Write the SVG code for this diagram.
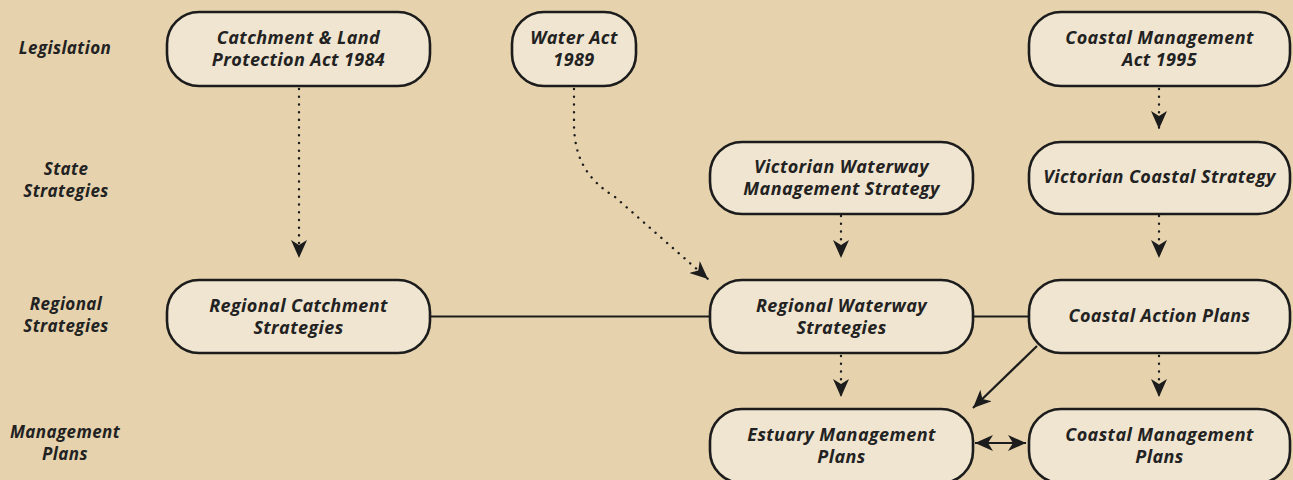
<svg xmlns="http://www.w3.org/2000/svg" width="1293" height="480" viewBox="0 0 1293 480">
<style>
.bg{fill:#e6d3ae}
.node rect{fill:#f0e5d0;stroke:#1c1c1c;stroke-width:2.6}
text{font-family:"Open Sans","Liberation Sans",sans-serif;font-style:italic;font-weight:700;fill:#222;text-anchor:middle}
.nt{font-size:18px;letter-spacing:0.4px}
.lbl{font-size:17px;letter-spacing:0.4px}
.dot{fill:none;stroke:#1c1c1c;stroke-width:2.4;stroke-dasharray:0.1 7.6;stroke-linecap:round}
.sol{fill:none;stroke:#1c1c1c;stroke-width:2.2}
</style>
<defs>
<marker id="ah" viewBox="0 0 18 16" refX="18" refY="8" markerWidth="18" markerHeight="16" markerUnits="userSpaceOnUse" orient="auto-start-reverse">
<path d="M0,0 L18,8 L0,16 L5,8 z" fill="#1c1c1c"/>
</marker>
</defs>
<rect class="bg" x="0" y="0" width="1293" height="480"/>
<g id="row-labels">
<text class="lbl" x="65" y="54">Legislation</text>
<text class="lbl" x="66" y="175">State</text>
<text class="lbl" x="66" y="197">Strategies</text>
<text class="lbl" x="66" y="310">Regional</text>
<text class="lbl" x="66" y="332">Strategies</text>
<text class="lbl" x="65" y="438">Management</text>
<text class="lbl" x="65" y="460">Plans</text>
</g>
<g id="connectors">
<path class="dot" d="M299,89 V258" marker-end="url(#ah)"/>
<path class="dot" d="M574,89 V126 C575,160 588,180 615,197 L708,279" marker-end="url(#ah)"/>
<path class="dot" d="M841,216 V258" marker-end="url(#ah)"/>
<path class="dot" d="M1159,89 V129" marker-end="url(#ah)"/>
<path class="dot" d="M1159,216 V258" marker-end="url(#ah)"/>
<path class="dot" d="M841,356 V397" marker-end="url(#ah)"/>
<path class="dot" d="M1159,356 V397" marker-end="url(#ah)"/>
<path class="sol" d="M430,316.5 H710"/>
<path class="sol" d="M973,316.5 H1029"/>
<path class="sol" d="M1037,346 L973,408" marker-end="url(#ah)"/>
<path class="sol" d="M975,443 H1026" marker-start="url(#ah)" marker-end="url(#ah)"/>
</g>
<g id="n-clpa" class="node"><rect x="167" y="12" width="263" height="74" rx="32"/><text class="nt" x="298.5" y="44">Catchment &amp; Land</text><text class="nt" x="298.5" y="66">Protection Act 1984</text></g>
<g id="n-wa" class="node"><rect x="512" y="12" width="124" height="74" rx="32"/><text class="nt" x="574" y="44">Water Act</text><text class="nt" x="574" y="66">1989</text></g>
<g id="n-cma" class="node"><rect x="1029" y="12" width="261" height="74" rx="32"/><text class="nt" x="1159.5" y="44">Coastal Management</text><text class="nt" x="1159.5" y="66">Act 1995</text></g>
<g id="n-vwms" class="node"><rect x="710" y="142" width="263" height="72" rx="32"/><text class="nt" x="841.5" y="173">Victorian Waterway</text><text class="nt" x="841.5" y="195">Management Strategy</text></g>
<g id="n-vcs" class="node"><rect x="1029" y="142" width="261" height="72" rx="32"/><text class="nt" x="1159.5" y="183">Victorian Coastal Strategy</text></g>
<g id="n-rcs" class="node"><rect x="167" y="280" width="263" height="73" rx="32"/><text class="nt" x="298.5" y="312">Regional Catchment</text><text class="nt" x="298.5" y="334">Strategies</text></g>
<g id="n-rws" class="node"><rect x="710" y="280" width="263" height="73" rx="32"/><text class="nt" x="841.5" y="312">Regional Waterway</text><text class="nt" x="841.5" y="334">Strategies</text></g>
<g id="n-cap" class="node"><rect x="1029" y="280" width="261" height="73" rx="32"/><text class="nt" x="1159.5" y="322">Coastal Action Plans</text></g>
<g id="n-emp" class="node"><rect x="710" y="409" width="263" height="74" rx="32"/><text class="nt" x="841.5" y="441">Estuary Management</text><text class="nt" x="841.5" y="463">Plans</text></g>
<g id="n-cmp" class="node"><rect x="1029" y="409" width="261" height="74" rx="32"/><text class="nt" x="1159.5" y="441">Coastal Management</text><text class="nt" x="1159.5" y="463">Plans</text></g>
</svg>
